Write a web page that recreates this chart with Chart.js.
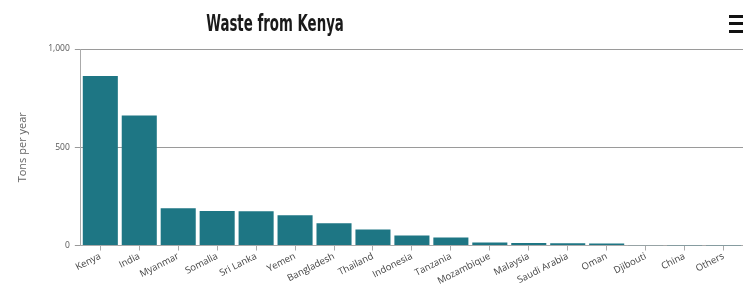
<!DOCTYPE html>
<html>
<head>
<meta charset="utf-8">
<script src="https://cdn.jsdelivr.net/npm/chart.js@4"></script>
<style>
  html, body { margin: 0; padding: 0; background: #fff; overflow: hidden; }
  #wrap { position: relative; width: 743px; height: 289px; }
</style>
</head>
<body>
<div id="wrap"><canvas id="wasteChart"></canvas></div>
<script>
// ===== DATA =====
const countries = ["Kenya", "India", "Myanmar", "Somalia", "Sri Lanka", "Yemen", "Bangladesh",
  "Thailand", "Indonesia", "Tanzania", "Mozambique", "Malaysia", "Saudi Arabia", "Oman",
  "Djibouti", "China", "Others"];
const tonsPerYear = [862, 661, 190, 176, 175, 154, 113, 82, 51, 41, 15, 13, 12, 10, 1, 0.5, 0.5];
const yTicks = [0, 500, 1000];
const chartTitle = "Waste from Kenya";

const barColor = "#1e7684";

// narrow bold title + hamburger menu icon
const decorations = {
  id: "decorations",
  afterDraw(chart) {
    const ctx = chart.ctx;
    ctx.save();
    ctx.fillStyle = "#1a1a1a";
    ctx.font = "bold 23px 'DejaVu Sans', sans-serif";
    ctx.textAlign = "center";
    ctx.textBaseline = "middle";
    ctx.translate(275, 25);
    ctx.scale(0.58, 1);
    ctx.fillText(chartTitle, 0, 0);
    ctx.restore();

    ctx.save();
    ctx.fillStyle = "#111";
    [15, 22, 30].forEach(y => ctx.fillRect(729, y, 16, 3));
    ctx.restore();
  }
};

// ===== CHART =====
const ctx = document.getElementById("wasteChart").getContext("2d");
new Chart(ctx, {
  type: "bar",
  data: {
    labels: countries,
    datasets: [{
      label: "Tons per year",
      data: tonsPerYear,
      backgroundColor: barColor,
      categoryPercentage: 1,
      barPercentage: 0.9
    }]
  },
  options: {
    responsive: true,
    maintainAspectRatio: false,
    animation: false,
    layout: { padding: { left: 16, right: 0, top: 49, bottom: 2 } },
    plugins: {
      legend: { display: false },
      tooltip: { enabled: false },
      title: { display: false }
    },
    scales: {
      x: {
        grid: { display: true, drawOnChartArea: false, offset: false, color: "#aaa", tickLength: 5 },
        border: { color: "#aaa" },
        ticks: {
          color: "#444",
          font: { family: "'Open Sans', sans-serif", size: 9.5 },
          minRotation: 27,
          maxRotation: 27,
          autoSkip: false,
          padding: 0
        }
      },
      y: {
        min: 0,
        max: 1000,
        afterBuildTicks: axis => { axis.ticks = yTicks.map(v => ({ value: v })); },
        grid: { color: "#9a9a9a", tickLength: 6 },
        border: { color: "#aaa" },
        ticks: {
          color: "#555",
          font: { family: "'Open Sans', sans-serif", size: 8.5 },
          padding: 5,
          callback: v => v.toLocaleString("en-US")
        },
        title: {
          display: true,
          text: "Tons per year",
          color: "#666",
          font: { family: "'Open Sans', sans-serif", size: 11 },
          padding: { top: 0, bottom: 14 }
        }
      }
    }
  },
  plugins: [decorations]
});
</script>
</body>
</html>
